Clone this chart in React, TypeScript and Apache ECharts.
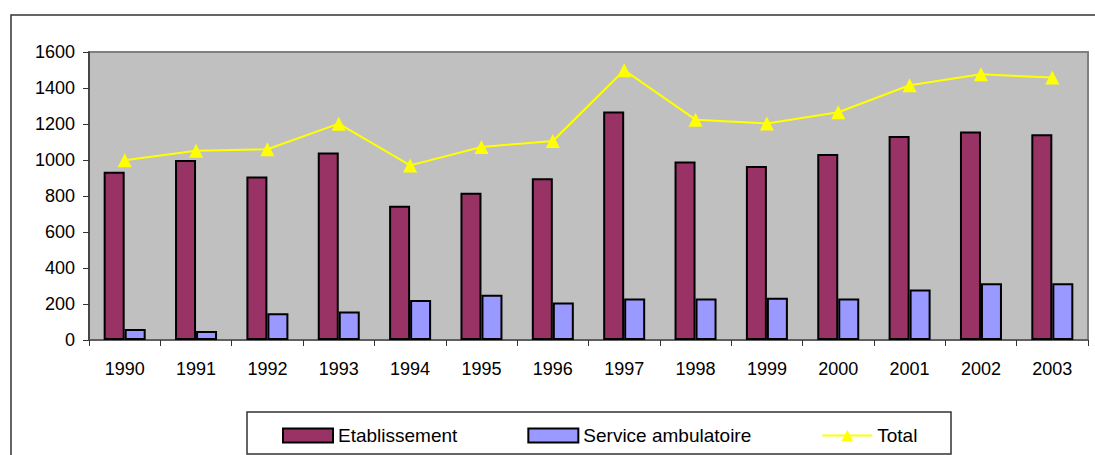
import React, { useEffect, useRef } from "react";
import * as echarts from "echarts";

const years = ["1990", "1991", "1992", "1993", "1994", "1995", "1996", "1997", "1998", "1999", "2000", "2001", "2002", "2003"];
const etablissement = [935, 1000, 909, 1041, 746, 818, 898, 1270, 991, 967, 1033, 1133, 1159, 1143];
const ambulatoire = [61, 50, 148, 159, 222, 252, 209, 231, 230, 235, 231, 280, 315, 315];
const total = [998, 1051, 1060, 1202, 970, 1072, 1106, 1499, 1224, 1203, 1265, 1415, 1476, 1458];

const FONT = "'Liberation Sans', Arial, sans-serif";

export default function App() {
  const ref = useRef<HTMLDivElement>(null);
  useEffect(() => {
    if (!ref.current) return;
    const chart = echarts.init(ref.current, null, { renderer: "svg" });
    chart.setOption({
      animation: false,
      backgroundColor: "#ffffff",
      textStyle: { fontFamily: FONT },
      graphic: [
        {
          type: "rect",
          shape: { x: 11, y: 15, width: 1200, height: 600 },
          style: { fill: "none", stroke: "#333333", lineWidth: 1.5 },
          silent: true,
          z: -10,
        },
        {
          type: "rect",
          shape: { x: 247, y: 412, width: 704, height: 42 },
          style: { fill: "#ffffff", stroke: "#333333", lineWidth: 1.5 },
          silent: true,
          z: -5,
        },
      ],
      grid: {
        left: 89,
        top: 52,
        right: 7,
        bottom: 115,
        show: true,
        backgroundColor: "#C0C0C0",
        borderColor: "#808080",
        borderWidth: 2,
      },
      legend: {
        left: 282,
        top: 426,
        itemWidth: 50,
        itemHeight: 14,
        itemGap: 70,
        padding: 0,
        textStyle: { fontSize: 19, color: "#000000", fontFamily: FONT },
        data: [
          { name: "Etablissement", icon: "rect" },
          { name: "Service ambulatoire", icon: "rect" },
          { name: "Total" },
        ],
      },
      xAxis: {
        type: "category",
        data: years,
        boundaryGap: true,
        axisLine: { lineStyle: { color: "#555555", width: 1.5 } },
        axisTick: { show: true, inside: false, length: 6, lineStyle: { color: "#333333", width: 1 } },
        axisLabel: { fontSize: 18, color: "#000000", margin: 20, fontFamily: FONT },
        splitLine: { show: false },
      },
      yAxis: {
        type: "value",
        min: 0,
        max: 1600,
        interval: 200,
        axisLine: { show: true, lineStyle: { color: "#333333", width: 1.5 } },
        axisTick: { show: true, inside: false, length: 6, lineStyle: { color: "#333333", width: 1 } },
        axisLabel: {
          fontSize: 18,
          color: "#000000",
          margin: 14,
          fontFamily: FONT,
          formatter: (v: number) => String(v),
        },
        splitLine: { show: false },
      },
      series: [
        {
          name: "Etablissement",
          type: "bar",
          data: etablissement,
          barWidth: 21,
          barGap: "0%",
          itemStyle: { color: "#993366", borderColor: "#000000", borderWidth: 2 },
        },
        {
          name: "Service ambulatoire",
          type: "bar",
          data: ambulatoire,
          barWidth: 21,
          barGap: "0%",
          itemStyle: { color: "#9999FF", borderColor: "#000000", borderWidth: 2 },
        },
        {
          name: "Total",
          type: "line",
          data: total,
          z: 5,
          symbol: "triangle",
          symbolSize: 14,
          lineStyle: { color: "#FFFF00", width: 2 },
          itemStyle: { color: "#FFFF00" },
        },
      ],
    });
    return () => chart.dispose();
  }, []);
  return (
    <div
      ref={ref}
      style={{ position: "fixed", left: 0, top: 0, width: 1095, height: 455 }}
    />
  );
}
